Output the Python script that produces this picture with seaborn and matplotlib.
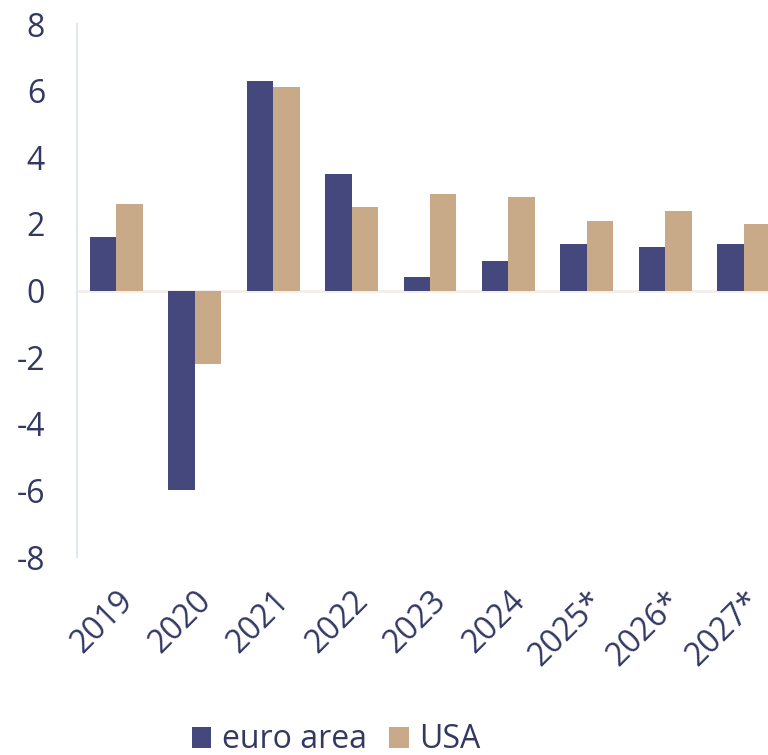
import matplotlib
matplotlib.use("Agg")
import matplotlib.pyplot as plt
import seaborn as sns
import pandas as pd

years = ["2019", "2020", "2021", "2022", "2023", "2024", "2025*", "2026*", "2027*"]
euro_area = [1.6, -6.0, 6.3, 3.5, 0.4, 0.9, 1.4, 1.3, 1.4]
usa = [2.6, -2.2, 6.1, 2.5, 2.9, 2.8, 2.1, 2.4, 2.0]

df = pd.DataFrame({"year": years * 2,
                   "value": euro_area + usa,
                   "region": ["euro area"] * len(years) + ["USA"] * len(years)})

sns.set_style("white")
plt.rcParams['font.family'] = ['Open Sans', 'DejaVu Sans']
plt.rcParams['axes.unicode_minus'] = False
text_col = "#333862"

fig = plt.figure(figsize=(7.68, 7.55), dpi=100)
ax = fig.add_axes([77 / 768, 198 / 755, 706 / 768, 533 / 755])

sns.barplot(data=df, x="year", y="value", hue="region",
            palette=["#45487D", "#C8AA88"], width=0.675, ax=ax,
            saturation=1, linewidth=0, legend=True)

ax.axhline(0, color="#F3EEE8", lw=2, zorder=0)
ax.set_ylim(-8, 8)
ax.set_yticks(range(-8, 9, 2))
ax.set_xlabel("")
ax.set_ylabel("")
for s in ["top", "right", "bottom"]:
    ax.spines[s].set_visible(False)
ax.spines["left"].set_color("#E2E8EE")
ax.spines["left"].set_linewidth(1.5)

ax.tick_params(axis="y", length=0, pad=23, labelsize=23, labelcolor=text_col)
ax.tick_params(axis="x", length=0, pad=20, labelsize=23, labelcolor=text_col)
for lab in ax.get_xticklabels():
    lab.set_rotation(45)
    lab.set_horizontalalignment("right")
    lab.set_rotation_mode("anchor")

ax.legend(loc="center", bbox_to_anchor=(336 / 768, 15 / 755),
          bbox_transform=fig.transFigure, ncol=2, frameon=False,
          fontsize=23, labelcolor=text_col, handlelength=0.62,
          handleheight=0.62, handletextpad=0.32, columnspacing=0.7)

fig.savefig("out.png", dpi=100)
